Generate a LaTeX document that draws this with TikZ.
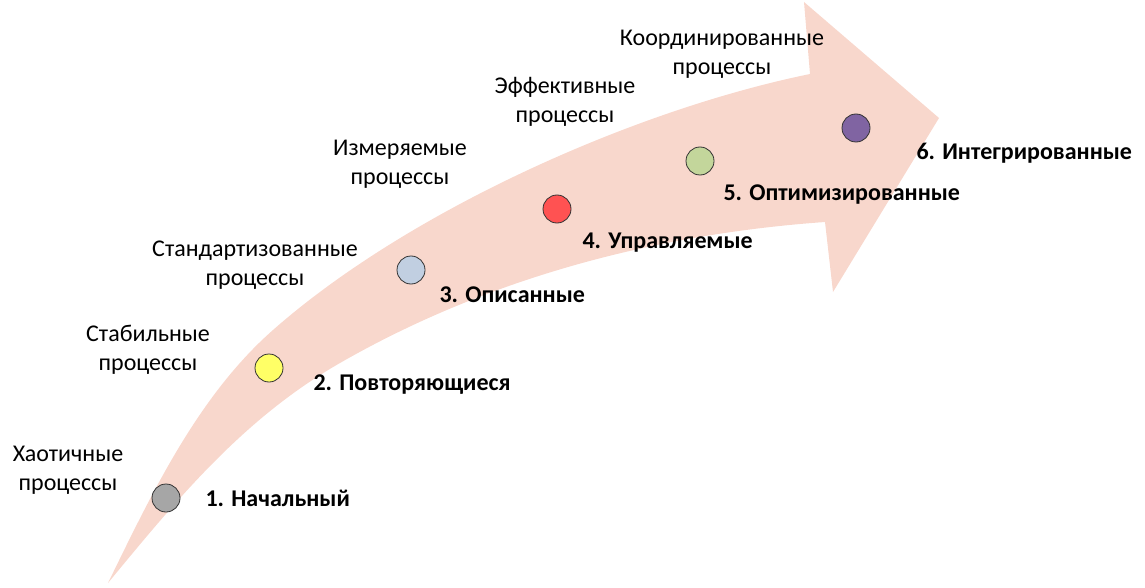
\documentclass[tikz,border=0pt]{standalone}
\usepackage{fontspec}
\setmainfont{Carlito}
\definecolor{arrowpink}{RGB}{248,215,204}
\definecolor{lvlgray}{RGB}{166,166,166}
\definecolor{lvlyellow}{RGB}{255,255,102}
\definecolor{lvlblue}{RGB}{193,207,225}
\definecolor{lvlred}{RGB}{255,82,82}
\definecolor{lvlgreen}{RGB}{195,214,155}
\definecolor{lvlpurple}{RGB}{128,100,162}
\tikzset{
  dot/.style={circle, draw=black!80, line width=0.8pt, minimum size=28pt, inner sep=0pt},
  proc/.style={align=center, font=\fontsize{24}{29}\selectfont},
  level/.style={anchor=west, font=\fontsize{24}{29}\selectfont\bfseries}
}
\begin{document}
\begin{tikzpicture}[x=1pt, y=-1pt]
        \useasboundingbox (0,0) rectangle (1145,588);

        % curved arrow
        \fill[arrowpink] (108,583) .. controls (152,493) and (198,396) .. (273,330)
            .. controls (408,211) and (634,110) .. (810,74)
            -- (804,2) -- (939,118) -- (833,292) -- (825,222)
            .. controls (656,234) and (488,278) .. (340,363)
            .. controls (244,418) and (178,498) .. (108,583) -- cycle;

        \node[dot, fill=lvlgray]   (d1) at (166,498) {};
        \node[dot, fill=lvlyellow] (d2) at (269,368) {};
        \node[dot, fill=lvlblue]   (d3) at (411,270) {};
        \node[dot, fill=lvlred]    (d4) at (557,209) {};
        \node[dot, fill=lvlgreen]  (d5) at (700,161) {};
        \node[dot, fill=lvlpurple] (d6) at (856,128) {};

        \node[level] (l1) at (202,498) {1. Начальный};
        \node[level] (l2) at (310,385) {2. Повторяющиеся};
        \node[level] (l3) at (436,295) {3. Описанные};
        \node[level] (l4) at (579,243) {4. Управляемые};
        \node[level] (l5) at (720,195) {5. Оптимизированные};
        \node[level] (l6) at (913,153) {6. Интегрированные};

        \node[proc] (p1) at (68,470)  {Хаотичные\\процессы};
        \node[proc] (p2) at (148,350) {Стабильные\\процессы};
        \node[proc] (p3) at (255,265) {Стандартизованные\\процессы};
        \node[proc] (p4) at (400,164) {Измеряемые\\процессы};
        \node[proc] (p5) at (565,102) {Эффективные\\процессы};
        \node[proc] (p6) at (722,54)  {Координированные\\процессы};
    \end{tikzpicture}
\end{document}
